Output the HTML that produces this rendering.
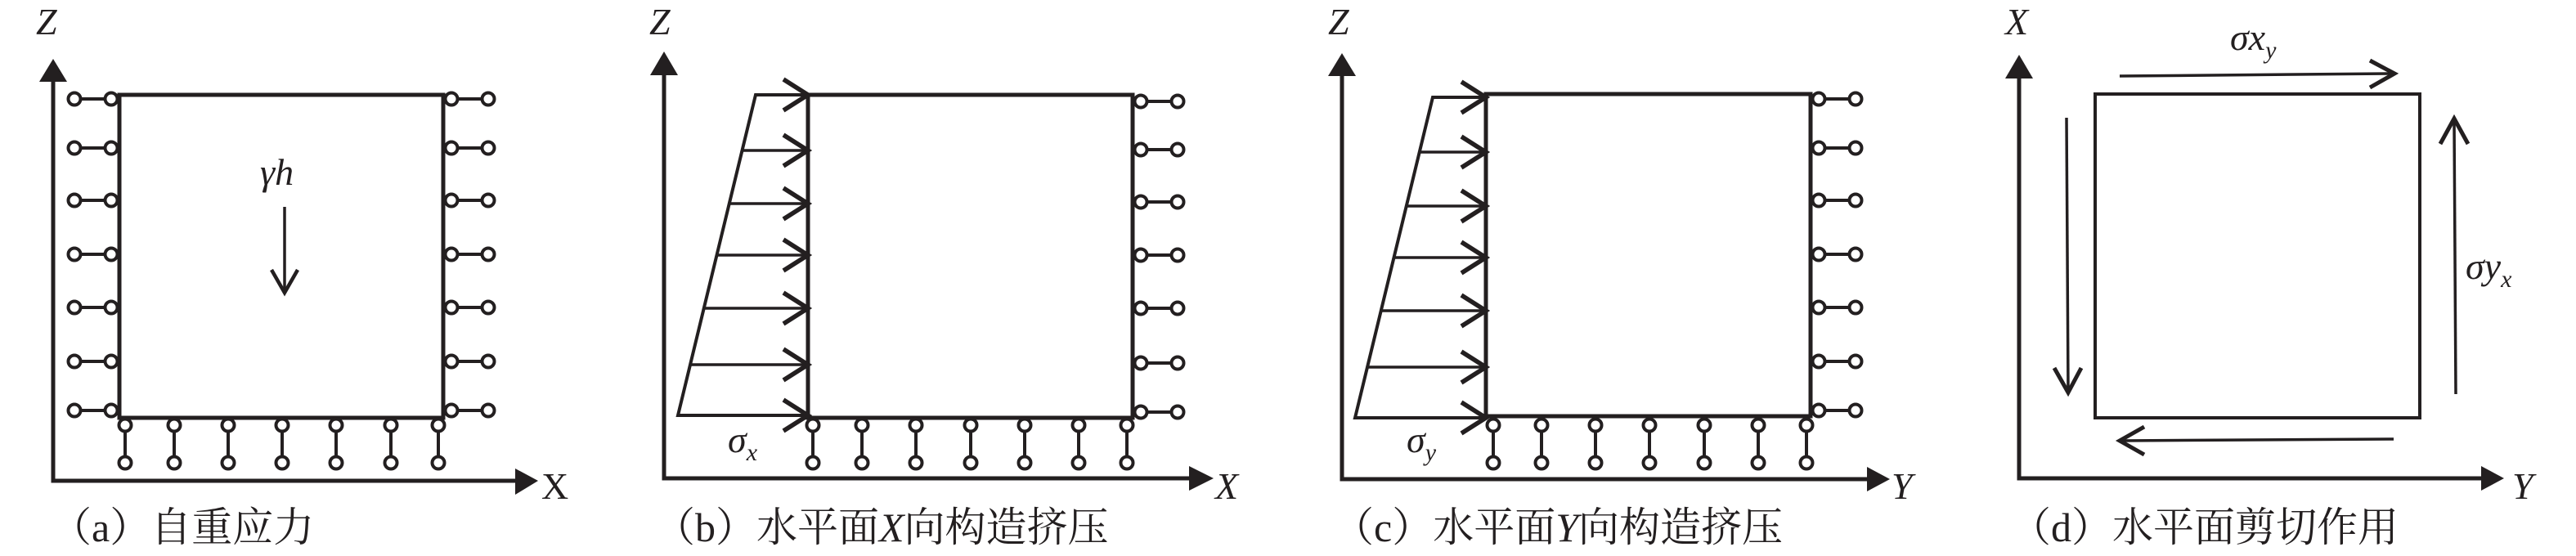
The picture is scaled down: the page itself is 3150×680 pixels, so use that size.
<!DOCTYPE html>
<html><head><meta charset="utf-8"><style>
html,body{margin:0;padding:0;background:#fff;}
svg{display:block;}
text{font-family:"Liberation Serif","DejaVu Serif","Noto Serif CJK SC",serif;}
.cap{font-family:"Liberation Serif","Noto Serif CJK SC","Noto Serif CJK JP",serif;font-size:50px;fill:#231f20;}
.lab{font-family:"Liberation Serif","DejaVu Serif",serif;font-size:46px;fill:#231f20;}
.it{font-style:italic;}
</style></head><body>
<svg width="3150" height="680" viewBox="0 0 3150 680" xmlns="http://www.w3.org/2000/svg">
<defs>
<g id="h" stroke="#231f20" stroke-width="4" fill="#fff"><line x1="7" y1="0" x2="38" y2="0"/><circle cx="0" cy="0" r="7.5"/><circle cx="45" cy="0" r="7.5"/></g>
<g id="v" stroke="#231f20" stroke-width="4" fill="#fff"><line x1="0" y1="7" x2="0" y2="39"/><circle cx="0" cy="0" r="7.5"/><circle cx="0" cy="46" r="7.5"/></g>
<path id="ah" d="M-30,-19 L0,0 L-30,19" fill="none" stroke="#231f20" stroke-width="5.5"/>
</defs>
<g stroke="#231f20" fill="none" stroke-linecap="butt">
<polyline points="65,96 65,588 632,588" stroke-width="5"/>
<polygon points="65,72 48,100 82,100" fill="#231f20" stroke="none"/>
<polygon points="658,588 630,573 630,605" fill="#231f20" stroke="none"/>
<rect x="146" y="116" width="396" height="395" stroke-width="5"/>
<line x1="348" y1="253" x2="348" y2="357" stroke-width="3.5"/>
<path d="M332,330 L348,358 L364,330" stroke-width="4.5"/>
<polyline points="812,88 812,585 1456,585" stroke-width="5"/>
<polygon points="812,63 795,92 829,92" fill="#231f20" stroke="none"/>
<polygon points="1484,585 1454,570 1454,600" fill="#231f20" stroke="none"/>
<rect x="988" y="116" width="397" height="395" stroke-width="5"/>
<polyline points="986,116 924,116 829,508 986,508" stroke-width="4"/>
<g stroke-width="3.5"><line x1="908" y1="184" x2="986" y2="184"/><line x1="892" y1="249" x2="986" y2="249"/><line x1="877" y1="312" x2="986" y2="312"/><line x1="861" y1="377" x2="986" y2="377"/><line x1="844" y1="446" x2="986" y2="446"/></g>
<polyline points="1641,90 1641,586 2285,586" stroke-width="5"/>
<polygon points="1641,65 1624,93 1658,93" fill="#231f20" stroke="none"/>
<polygon points="2311,586 2283,571 2283,601" fill="#231f20" stroke="none"/>
<rect x="1817" y="115" width="397" height="394" stroke-width="5"/>
<polyline points="1815,119 1752,119 1657,511 1815,511" stroke-width="4"/>
<g stroke-width="3.5"><line x1="1736" y1="186" x2="1815" y2="186"/><line x1="1720" y1="252" x2="1815" y2="252"/><line x1="1705" y1="315" x2="1815" y2="315"/><line x1="1689" y1="380" x2="1815" y2="380"/><line x1="1672" y1="449" x2="1815" y2="449"/></g>
<polyline points="2469,92 2469,585 3036,585" stroke-width="5"/>
<polygon points="2469,67 2452,96 2486,96" fill="#231f20" stroke="none"/>
<polygon points="3062,585 3034,570 3034,600" fill="#231f20" stroke="none"/>
<rect x="2562" y="115" width="397" height="396" stroke-width="4"/>
<line x1="2592" y1="93" x2="2926" y2="90" stroke-width="3.5"/>
<path d="M2898,74 L2928,90 L2898,107" stroke-width="5"/>
<line x1="2927" y1="537" x2="2594" y2="539" stroke-width="3.5"/>
<path d="M2622,522 L2592,539 L2622,556" stroke-width="5"/>
<line x1="2527" y1="144" x2="2529" y2="478" stroke-width="3.5"/>
<path d="M2512,450 L2529,480 L2545,450" stroke-width="5"/>
<line x1="3003" y1="482" x2="3001" y2="147" stroke-width="3.5"/>
<path d="M2984,176 L3001,145 L3018,176" stroke-width="5"/>
</g>
<use href="#ah" x="988" y="116"/><use href="#ah" x="988" y="184"/><use href="#ah" x="988" y="249"/><use href="#ah" x="988" y="312"/><use href="#ah" x="988" y="377"/><use href="#ah" x="988" y="446"/><use href="#ah" x="988" y="508"/>
<use href="#ah" x="1817" y="119"/><use href="#ah" x="1817" y="186"/><use href="#ah" x="1817" y="252"/><use href="#ah" x="1817" y="315"/><use href="#ah" x="1817" y="380"/><use href="#ah" x="1817" y="449"/><use href="#ah" x="1817" y="511"/>
<use href="#h" x="91" y="121"/><use href="#h" x="91" y="181"/><use href="#h" x="91" y="245"/><use href="#h" x="91" y="311"/><use href="#h" x="91" y="376"/><use href="#h" x="91" y="442"/><use href="#h" x="91" y="502"/>
<use href="#h" x="552" y="121"/><use href="#h" x="552" y="181"/><use href="#h" x="552" y="245"/><use href="#h" x="552" y="311"/><use href="#h" x="552" y="376"/><use href="#h" x="552" y="442"/><use href="#h" x="552" y="502"/>
<use href="#v" x="153" y="520"/><use href="#v" x="213" y="520"/><use href="#v" x="279" y="520"/><use href="#v" x="345" y="520"/><use href="#v" x="411" y="520"/><use href="#v" x="478" y="520"/><use href="#v" x="536" y="520"/>
<use href="#h" x="1395" y="124"/><use href="#h" x="1395" y="183"/><use href="#h" x="1395" y="247"/><use href="#h" x="1395" y="312"/><use href="#h" x="1395" y="377"/><use href="#h" x="1395" y="444"/><use href="#h" x="1395" y="504"/>
<use href="#v" x="994" y="520"/><use href="#v" x="1054" y="520"/><use href="#v" x="1120" y="520"/><use href="#v" x="1187" y="520"/><use href="#v" x="1253" y="520"/><use href="#v" x="1319" y="520"/><use href="#v" x="1378" y="520"/>
<use href="#h" x="2224" y="121"/><use href="#h" x="2224" y="181"/><use href="#h" x="2224" y="245"/><use href="#h" x="2224" y="311"/><use href="#h" x="2224" y="376"/><use href="#h" x="2224" y="442"/><use href="#h" x="2224" y="502"/>
<use href="#v" x="1826" y="520"/><use href="#v" x="1885" y="520"/><use href="#v" x="1951" y="520"/><use href="#v" x="2017" y="520"/><use href="#v" x="2084" y="520"/><use href="#v" x="2150" y="520"/><use href="#v" x="2209" y="520"/>
<g font-family="Liberation Serif, DejaVu Serif, serif">
<text class="lab it" x="44" y="42">Z</text>
<text class="lab" x="662" y="610">X</text>
<text class="lab it" x="318" y="226">γh</text>
<text class="lab it" x="794" y="42">Z</text>
<text class="lab it" x="1486" y="610">X</text>
<text class="lab it" x="890" y="553">σ<tspan font-size="30" dy="10">x</tspan></text>
<text class="lab it" x="1624" y="42">Z</text>
<text class="lab it" x="2313" y="610">Y</text>
<text class="lab it" x="1720" y="553">σ<tspan font-size="30" dy="10">y</tspan></text>
<text class="lab it" x="2452" y="42">X</text>
<text class="lab it" x="3072" y="610">Y</text>
<text class="lab it" x="2727" y="61">σx<tspan font-size="30" dy="10">y</tspan></text>
<text class="lab it" x="3015" y="341">σy<tspan font-size="30" dy="10">x</tspan></text>
</g>
<g font-family="Liberation Serif, Noto Serif CJK SC, serif">
<text class="cap" x="62" y="662">（a）自重应力</text>
<text class="cap" x="800" y="662">（b）水平面<tspan class="it">X</tspan>向构造挤压</text>
<text class="cap" x="1630" y="662">（c）水平面<tspan class="it">Y</tspan>向构造挤压</text>
<text class="cap" x="2458" y="662">（d）水平面剪切作用</text>
</g>
</svg>
</body></html>
